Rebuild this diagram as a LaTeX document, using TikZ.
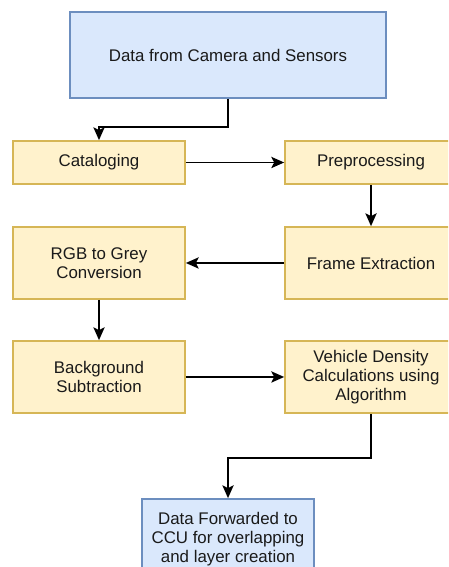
\documentclass[tikz,border=0pt]{standalone}
\usepackage{fontspec}
\setmainfont{Liberation Sans}
\usepackage{tikz}
\usetikzlibrary{arrows.meta}
\definecolor{blueFill}{HTML}{DAE8FC}
\definecolor{blueLine}{HTML}{6C8EBF}
\definecolor{yellowFill}{HTML}{FFF2CC}
\definecolor{yellowLine}{HTML}{D6B656}
\definecolor{textGrey}{HTML}{1A1A1A}

\begin{document}
\begin{tikzpicture}[
		font=\fontsize{12}{13.5}\selectfont,
		yellowbox/.style={draw=yellowLine, fill=yellowFill, line width=1.2pt, text=textGrey, align=center, minimum width=4.3cm, inner sep=0pt},
		bluebox/.style={draw=blueLine, fill=blueFill, line width=1.2pt, text=textGrey, align=center, inner sep=0pt},
		flow/.style={line width=1.3pt, -{Stealth[length=3.2mm, width=2.8mm, inset=0.7mm]}}
	]
			
			\useasboundingbox (0,0) rectangle (11.2,14.175);
			\clip (0,0) rectangle (11.2,14.175);
			
			\node [bluebox, minimum width=7.9cm, minimum height=2.15cm] (source) at (5.7,12.8) {Data from Camera and Sensors};
			
			\node [yellowbox, minimum height=1.075cm] (catalog) at (2.475,10.1125) {Cataloging};
			\node [yellowbox, minimum height=1.075cm] (preproc) at (9.275,10.1125) {Preprocessing};
			
			\node [yellowbox, minimum height=1.8cm] (rgbgrey) at (2.475,7.6) {RGB to Grey\\Conversion};
			\node [yellowbox, minimum height=1.8cm] (frames) at (9.275,7.6) {Frame Extraction};
			
			\node [yellowbox, minimum height=1.8cm] (bgsub) at (2.475,4.75) {Background\\Subtraction};
			\node [yellowbox, minimum height=1.8cm] (density) at (9.275,4.75) {Vehicle Density\\Calculations using\\Algorithm};
			
			\node [bluebox, minimum width=4.3cm, minimum height=2cm] (ccu) at (5.7,0.7) {Data Forwarded to\\CCU for overlapping\\and layer creation};
			
			\draw [flow] (source.south) -- ++(0,-0.7) -| (catalog.north);
			\draw [flow] (catalog) -- (preproc);
			\draw [flow] (preproc) -- (frames);
			\draw [flow] (frames) -- (rgbgrey);
			\draw [flow] (rgbgrey) -- (bgsub);
			\draw [flow] (bgsub) -- (density);
			\draw [flow] (density.south) -- ++(0,-1.1) -| (ccu.north);
			
			\end{tikzpicture}
\end{document}
